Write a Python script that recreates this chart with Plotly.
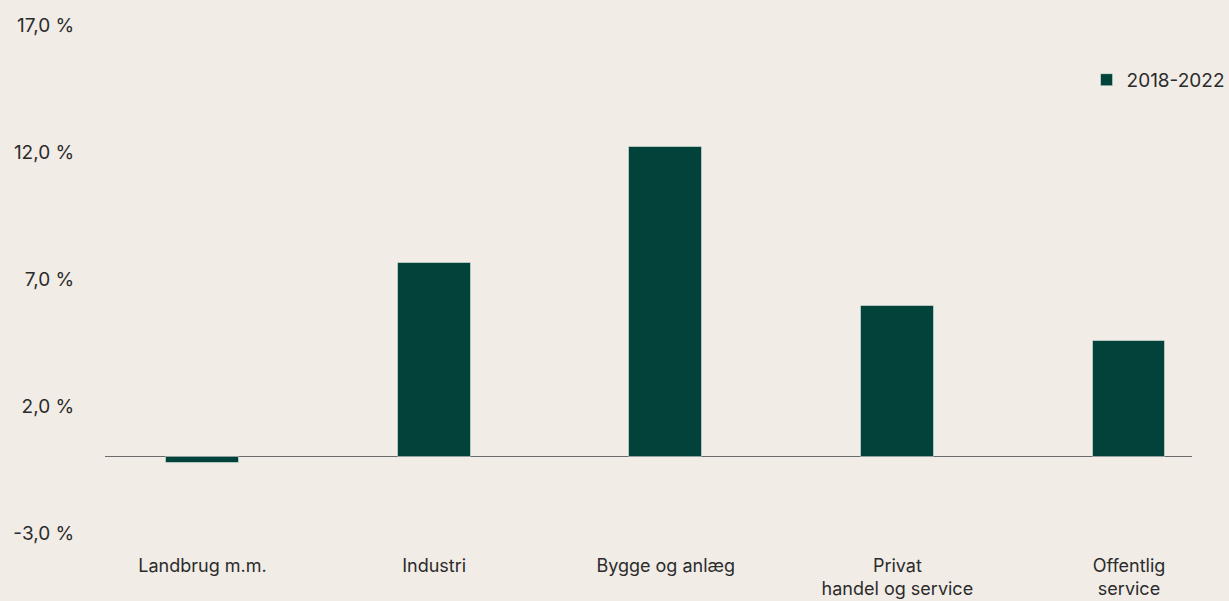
import plotly.graph_objects as go

categories = ["Landbrug m.m.", "Industri", "Bygge og anlæg", "Privat<br>handel og service", "Offentlig<br>service"]
values_2018_2022 = [-0.26, 7.63, 12.19, 5.94, 4.57]
series_name = "2018-2022"
y_tick_vals = [-3, 2, 7, 12, 17]
y_tick_text = ["-3,0 %", "2,0 %", "7,0 %", "12,0 %", "17,0 %"]

BG = "#F1ECE6"
BAR = "#01423A"
TXT = "#2b2b2b"
FONT = "Inter, Roboto, sans-serif"
FS = 19

fig = go.Figure()
fig.add_trace(go.Bar(
    x=list(range(len(categories))),
    y=values_2018_2022,
    name=series_name,
    width=0.315,
    marker=dict(color=BAR, line=dict(color="rgba(255,255,255,0.45)", width=1)),
    showlegend=True,
))

fig.update_layout(
    width=1229, height=601,
    paper_bgcolor=BG, plot_bgcolor=BG,
    margin=dict(l=105, r=37, t=25, b=68, autoexpand=False),
    font=dict(family=FONT, size=FS, color=TXT),
    bargap=0,
    legend=dict(x=0.903, xanchor="left", y=0.892, yanchor="middle",
                bgcolor="rgba(0,0,0,0)", font=dict(size=FS, color=TXT),
                itemwidth=30, tracegroupgap=0),
    xaxis=dict(
        range=[-0.421, 4.272],
        tickvals=list(range(len(categories))),
        ticktext=categories,
        showgrid=False, zeroline=False, showline=False,
        ticks="outside", ticklen=16, tickcolor="rgba(0,0,0,0)",
        tickfont=dict(size=18, color=TXT),
        automargin=False,
    ),
    yaxis=dict(
        range=[-3, 17],
        tickvals=y_tick_vals,
        ticktext=y_tick_text,
        showgrid=False, showline=False,
        zeroline=True, zerolinecolor="#6b6b6b", zerolinewidth=1,
        ticks="outside", ticklen=26, tickcolor="rgba(0,0,0,0)",
        tickfont=dict(size=FS, color=TXT),
        automargin=False,
    ),
)

fig.write_html(
    "out.html",
    config={"displayModeBar": False},
    post_script="document.body.style.margin='0';document.body.style.background='#F1ECE6';",
)
